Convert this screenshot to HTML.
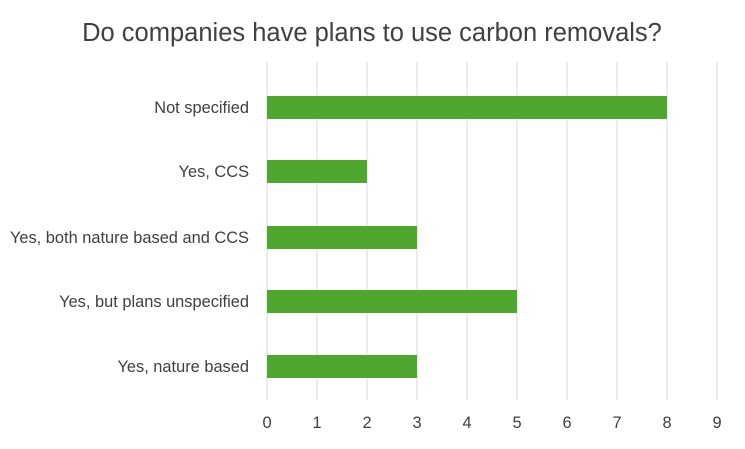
<!DOCTYPE html>
<html><head><style>body{margin:0;background:#fff}</style></head><body>
<svg width="745" height="444" xmlns="http://www.w3.org/2000/svg" font-family="Liberation Sans, sans-serif">
<rect width="745" height="444" fill="#fff"/>
<text x="372" y="41" text-anchor="middle" font-size="25.5" fill="#404040">Do companies have plans to use carbon removals?</text>
<g stroke="#d9d9d9" stroke-width="1">
<line x1="267" y1="62" x2="267" y2="400"/><line x1="317" y1="62" x2="317" y2="400"/><line x1="367" y1="62" x2="367" y2="400"/><line x1="417" y1="62" x2="417" y2="400"/><line x1="467" y1="62" x2="467" y2="400"/><line x1="517" y1="62" x2="517" y2="400"/><line x1="567" y1="62" x2="567" y2="400"/><line x1="617" y1="62" x2="617" y2="400"/><line x1="667" y1="62" x2="667" y2="400"/><line x1="717" y1="62" x2="717" y2="400"/>
</g>
<g fill="#4ea72e">
<rect x="267" y="96" width="400" height="23"/>
<rect x="267" y="160" width="100" height="23"/>
<rect x="267" y="226" width="150" height="23"/>
<rect x="267" y="290" width="250" height="23"/>
<rect x="267" y="355" width="150" height="23"/>
</g>
<g font-size="16.4" fill="#404040" text-anchor="end">
<text x="249" y="113">Not specified</text>
<text x="249" y="177">Yes, CCS</text>
<text x="249" y="243">Yes, both nature based and CCS</text>
<text x="249" y="307">Yes, but plans unspecified</text>
<text x="249" y="372">Yes, nature based</text>
</g>
<g font-size="16.4" fill="#404040" text-anchor="middle">
<text x="267" y="428">0</text><text x="317" y="428">1</text><text x="367" y="428">2</text><text x="417" y="428">3</text><text x="467" y="428">4</text><text x="517" y="428">5</text><text x="567" y="428">6</text><text x="617" y="428">7</text><text x="667" y="428">8</text><text x="717" y="428">9</text>
</g>
</svg>
</body></html>
